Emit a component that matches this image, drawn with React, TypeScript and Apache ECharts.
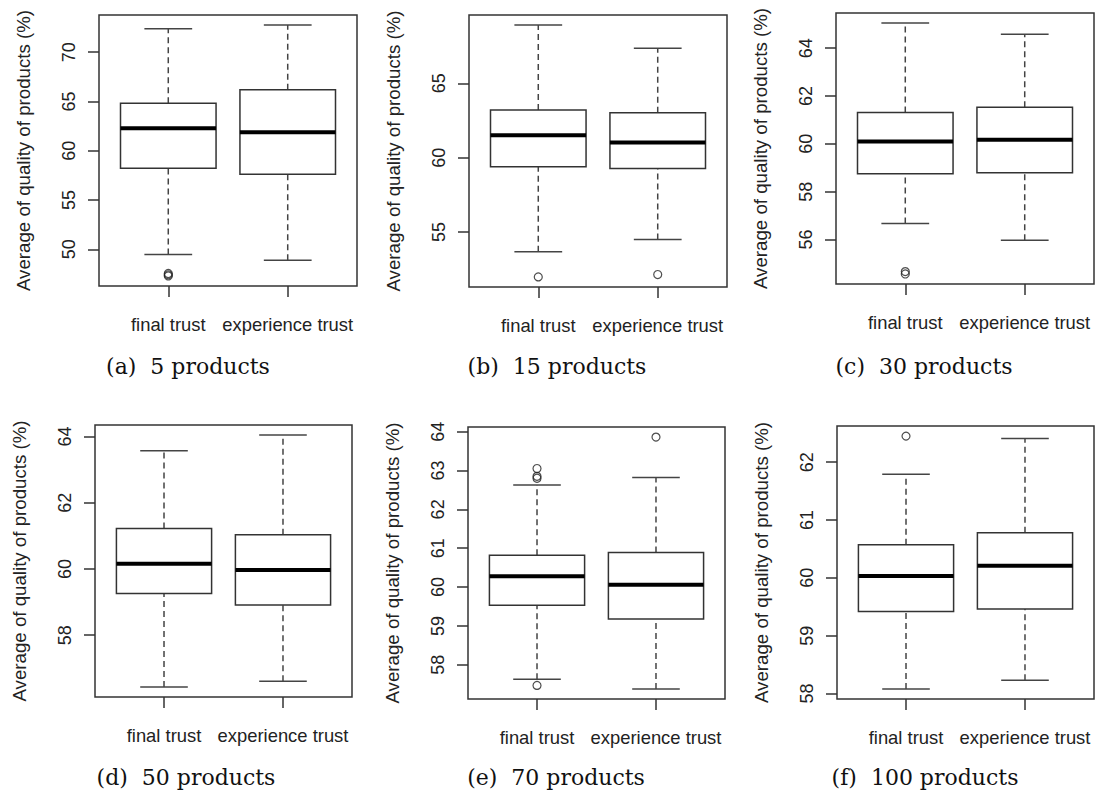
import React, { useEffect, useRef } from "react";
import * as echarts from "echarts";

const categories = ["final trust", "experience trust"];
const captions = [
  "(a)  5 products",
  "(b)  15 products",
  "(c)  30 products",
  "(d)  50 products",
  "(e)  70 products",
  "(f)  100 products",
];
const yTitle = "Average of quality of products (%)";

// per box: [lower whisker, Q1, median, Q3, upper whisker]
const boxes5 = [
  [49.49, 58.24, 62.3, 64.83, 72.39],
  [48.9, 57.63, 61.89, 66.19, 72.76],
];
const outliers5 = [[1, 47.3], [1, 47.42], [1, 47.55]];
const ticks5 = [50, 55, 60, 65, 70];

const boxes15 = [
  [53.67, 59.39, 61.51, 63.2, 68.92],
  [54.49, 59.28, 61.02, 63.02, 67.36],
];
const outliers15 = [[1, 51.98], [2, 52.14]];
const ticks15 = [55, 60, 65];

const boxes30 = [
  [56.67, 58.75, 60.1, 61.31, 65.05],
  [55.97, 58.79, 60.17, 61.53, 64.58],
];
const outliers30 = [[1, 54.56], [1, 54.66]];
const ticks30 = [56, 58, 60, 62, 64];

const boxes50 = [
  [56.44, 59.26, 60.16, 61.22, 63.57],
  [56.61, 58.91, 59.97, 61.03, 64.04],
];
const outliers50: number[][] = [];
const ticks50 = [58, 60, 62, 64];

const boxes70 = [
  [57.63, 59.53, 60.28, 60.82, 62.63],
  [57.38, 59.18, 60.06, 60.89, 62.82],
];
const outliers70 = [[1, 63.05], [1, 62.85], [1, 62.8], [1, 57.47], [2, 63.86]];
const ticks70 = [58, 59, 60, 61, 62, 63, 64];

const boxes100 = [
  [58.08, 59.42, 60.03, 60.57, 61.79],
  [58.23, 59.46, 60.21, 60.78, 62.41],
];
const outliers100 = [[1, 62.45]];
const ticks100 = [58, 59, 60, 61, 62];

const allBoxes = [boxes5, boxes15, boxes30, boxes50, boxes70, boxes100];
const allOutliers = [outliers5, outliers15, outliers30, outliers50, outliers70, outliers100];
const allTicks = [ticks5, ticks15, ticks30, ticks50, ticks70, ticks100];

// layout (pixels)
const gridRects = [
  { left: 99, top: 15, width: 258, height: 271 },
  { left: 469, top: 15, width: 258, height: 272 },
  { left: 836, top: 13, width: 258, height: 271 },
  { left: 95, top: 425, width: 257, height: 272 },
  { left: 468, top: 427, width: 257, height: 272 },
  { left: 837, top: 426, width: 257, height: 273 },
];
const captionPos = [
  [188, 366],
  [557, 366],
  [924, 366],
  [186, 777],
  [556, 777],
  [925, 777],
];

const LINE = "#333";
const SANS = "Liberation Sans, Arial, sans-serif";

export default function App() {
  const ref = useRef<HTMLDivElement>(null);

  useEffect(() => {
    document.body.style.margin = "0";
    const chart = echarts.init(ref.current!, null, { renderer: "svg" });

    const grid: any[] = [];
    const xAxis: any[] = [];
    const yAxis: any[] = [];
    const series: any[] = [];
    const graphic: any[] = [];

    const xMin = 0.5 - 0.04 * 2;
    const xMax = categories.length + 0.5 + 0.04 * 2;

    allBoxes.forEach((boxes, i) => {
      const g = gridRects[i];
      const outl = allOutliers[i];
      const vals: number[] = [];
      boxes.forEach((b) => vals.push(...b));
      outl.forEach((o) => vals.push(o[1]));
      const lo = Math.min(...vals);
      const hi = Math.max(...vals);
      const pad = (hi - lo) * 0.04;

      grid.push({
        left: g.left,
        top: g.top,
        width: g.width,
        height: g.height,
        show: true,
        borderColor: LINE,
        borderWidth: 1.5,
        backgroundColor: "transparent",
      });
      xAxis.push({
        gridIndex: i,
        type: "value",
        min: xMin,
        max: xMax,
        axisLine: { show: false },
        splitLine: { show: false },
        axisTick: {
          show: true,
          length: 11,
          customValues: [1, 2],
          lineStyle: { color: LINE, width: 1.5 },
        },
        axisLabel: {
          show: true,
          customValues: [1, 2],
          margin: 29,
          fontFamily: SANS,
          fontSize: 18.4,
          color: "#222",
          formatter: (v: number) => categories[Math.round(v) - 1] ?? "",
        },
      });
      yAxis.push({
        gridIndex: i,
        type: "value",
        min: lo - pad,
        max: hi + pad,
        axisLine: { show: false },
        splitLine: { show: false },
        axisTick: {
          show: true,
          length: 11,
          customValues: allTicks[i],
          lineStyle: { color: LINE, width: 1.5 },
        },
        axisLabel: {
          show: true,
          customValues: allTicks[i],
          rotate: 90,
          margin: 21,
          fontFamily: SANS,
          fontSize: 18,
          color: "#222",
        },
      });

      series.push({
        type: "custom",
        xAxisIndex: i,
        yAxisIndex: i,
        clip: false,
        data: boxes.map((b, k) => [k + 1, ...b]),
        encode: { x: 0, y: [1, 2, 3, 4, 5] },
        renderItem: (params: any, api: any) => {
          const x = api.value(0);
          const low = api.value(1);
          const q1 = api.value(2);
          const med = api.value(3);
          const q3 = api.value(4);
          const high = api.value(5);
          const pLow = api.coord([x, low]);
          const pQ1 = api.coord([x, q1]);
          const pMed = api.coord([x, med]);
          const pQ3 = api.coord([x, q3]);
          const pHigh = api.coord([x, high]);
          const left = api.coord([x - 0.4, q1])[0];
          const right = api.coord([x + 0.4, q1])[0];
          const capL = api.coord([x - 0.2, q1])[0];
          const capR = api.coord([x + 0.2, q1])[0];
          const dash = { stroke: "#444", lineWidth: 1.5, lineDash: [6, 4] };
          const solid = { stroke: "#444", lineWidth: 1.5 };
          return {
            type: "group",
            children: [
              { type: "line", shape: { x1: pQ3[0], y1: pQ3[1], x2: pHigh[0], y2: pHigh[1] }, style: dash },
              { type: "line", shape: { x1: pLow[0], y1: pLow[1], x2: pQ1[0], y2: pQ1[1] }, style: dash },
              { type: "line", shape: { x1: capL, y1: pHigh[1], x2: capR, y2: pHigh[1] }, style: solid },
              { type: "line", shape: { x1: capL, y1: pLow[1], x2: capR, y2: pLow[1] }, style: solid },
              {
                type: "rect",
                shape: { x: left, y: pQ3[1], width: right - left, height: pQ1[1] - pQ3[1] },
                style: { fill: "#fff", stroke: LINE, lineWidth: 1.5 },
              },
              {
                type: "line",
                shape: { x1: left, y1: pMed[1], x2: right, y2: pMed[1] },
                style: { stroke: "#000", lineWidth: 4 },
              },
            ],
          };
        },
      });

      if (outl.length) {
        series.push({
          type: "scatter",
          xAxisIndex: i,
          yAxisIndex: i,
          data: outl,
          symbol: "circle",
          symbolSize: 8,
          itemStyle: { color: "rgba(0,0,0,0)", borderColor: "#222", borderWidth: 1.2 },
          z: 5,
        });
      }

      graphic.push({
        type: "text",
        x: g.left - 76,
        y: g.top + g.height / 2,
        rotation: Math.PI / 2,
        style: {
          text: yTitle,
          fontFamily: SANS,
          fontSize: 18.7,
          fill: "#222",
          align: "center",
          verticalAlign: "middle",
        },
      });
      graphic.push({
        type: "text",
        x: captionPos[i][0],
        y: captionPos[i][1],
        style: {
          text: captions[i],
          fontFamily: "DejaVu Serif, serif",
          fontSize: 22,
          fill: "#111",
          align: "center",
          verticalAlign: "middle",
        },
      });
    });

    chart.setOption({
      animation: false,
      backgroundColor: "#fff",
      grid,
      xAxis,
      yAxis,
      series,
      graphic,
    });

    return () => chart.dispose();
  }, []);

  return <div ref={ref} style={{ width: 1096, height: 796, position: "absolute", left: 0, top: 0 }} />;
}
